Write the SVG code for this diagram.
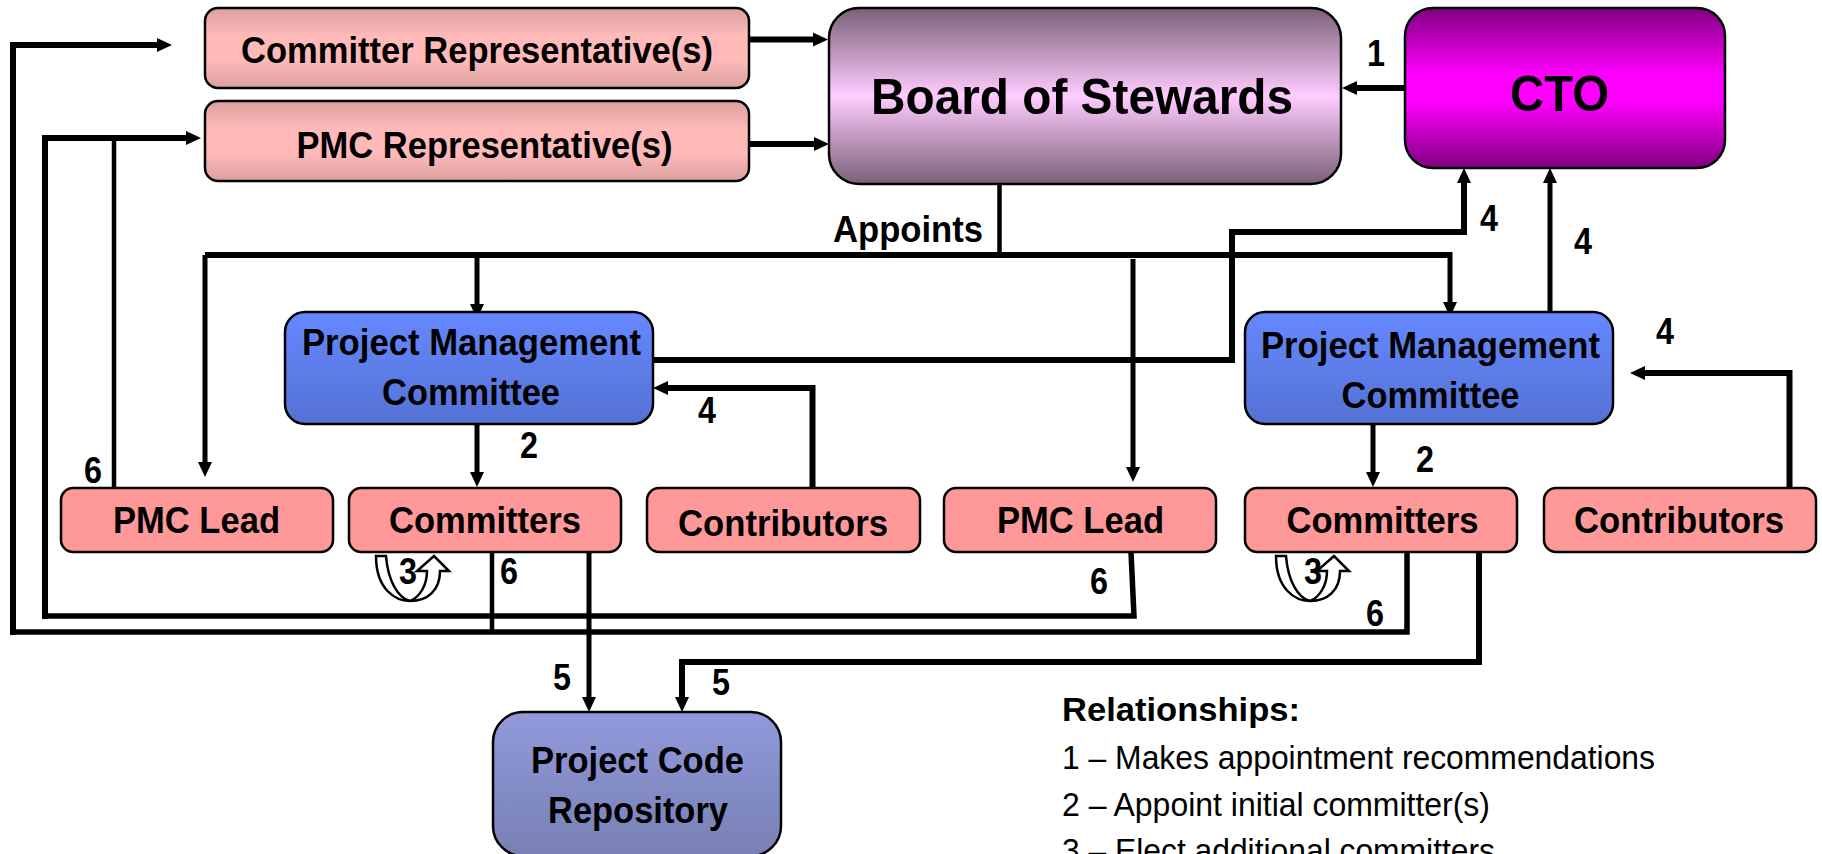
<svg xmlns="http://www.w3.org/2000/svg" width="1822" height="854" viewBox="0 0 1822 854">
<style>
text{font-family:"Liberation Sans",Arial,sans-serif;font-weight:700;fill:#000}
.n rect{stroke:#000;stroke-width:2.500}
.t32{font-size:36px}
.lg{font-size:33px}
.r{font-weight:400;font-size:33px}
.c path{fill:none;stroke:#000;stroke-width:5.500}
.c .h{stroke-width:6;marker-end:url(#a)}
.c .v{stroke-width:5;marker-end:url(#a)}
.c .s{stroke-width:4.500}
.u{fill:#fff;stroke:#000;stroke-width:2.500}
</style>
<defs>
<marker id="a" markerUnits="userSpaceOnUse" markerWidth="16" markerHeight="16" viewBox="0 0 16 16" refX="3" refY="8" orient="auto"><path d="M0 1L15 8L0 15z" fill="#000"/></marker>
<linearGradient id="gp" x1="0" y1="0" x2="0" y2="1"><stop offset="0" stop-color="#dca0a0"/><stop offset=".35" stop-color="#ffb9b9"/><stop offset=".65" stop-color="#ffb9b9"/><stop offset="1" stop-color="#dca0a0"/></linearGradient>
<linearGradient id="gb" x1="0" y1="0" x2="0" y2="1"><stop offset="0" stop-color="#7a6078"/><stop offset=".5" stop-color="#ffccff"/><stop offset="1" stop-color="#7a6078"/></linearGradient>
<linearGradient id="gc" x1="0" y1="0" x2="0" y2="1"><stop offset="0" stop-color="#800080"/><stop offset=".42" stop-color="#ff00ff"/><stop offset=".58" stop-color="#ff00ff"/><stop offset="1" stop-color="#800080"/></linearGradient>
<linearGradient id="gm" x1="0" y1="0" x2="0" y2="1"><stop offset="0" stop-color="#6688ff"/><stop offset="1" stop-color="#5472d4"/></linearGradient>
<linearGradient id="gr" x1="0" y1="0" x2="0" y2="1"><stop offset="0" stop-color="#9199dc"/><stop offset="1" stop-color="#7880b4"/></linearGradient>
<g id="uturn"><path class="u" d="M376 556L386 556C388 581 398 598 410 601C396 601 376 590 376 556z"/><path class="u" d="M410 601C420 597 427 585 427 571L417 571L434 556L449 571L440 571C440 590 428 601 410 601z"/></g>
</defs>
<g class="c" id="connectors">
<path d="M13 635V45H160" class="h"/>
<path d="M45 619V138H189" class="h"/>
<path d="M114 487V138" class="s"/>
<path d="M749 39.500H816" class="h"/>
<path d="M749 144H817" class="h"/>
<path d="M1405 88H1354" class="h"/>
<path d="M999.500 184V255" class="s"/>
<path d="M205 255V465" class="v"/>
<path d="M205 255H1450" style="stroke-width:6"/>
<path d="M1450 252V305" class="v"/>
<path d="M477 255V307" class="v"/>
<path d="M1133 259V470" class="v"/>
<path d="M653 360H1232V232H1464V180" class="h"/>
<path d="M1550 312V180" class="v"/>
<path d="M812.500 487V388H665" class="h"/>
<path d="M1789.500 487V373H1642" class="h"/>
<path d="M477 424V475" class="v"/>
<path d="M1373 424V475" class="v"/>
<path d="M45 616H1134L1131 552"/>
<path d="M13 632H1407V552"/>
<path d="M492 552V632" class="s"/>
<path d="M589 552V700" class="v"/>
<path d="M1479 552V662H682V700" class="h"/>
</g>
<use href="#uturn"/>
<use href="#uturn" x="900"/>
<g id="committer-rep" class="n"><rect x="205" y="8" width="544" height="80" rx="13" fill="url(#gp)"/><text class="t32" x="241" y="63" textLength="472" lengthAdjust="spacingAndGlyphs">Committer Representative(s)</text></g>
<g id="pmc-rep" class="n"><rect x="205" y="101" width="544" height="80" rx="13" fill="url(#gp)"/><text class="t32" x="296.500" y="157.500" textLength="376" lengthAdjust="spacingAndGlyphs">PMC Representative(s)</text></g>
<g id="board" class="n"><rect x="829" y="8" width="512" height="176" rx="30" fill="url(#gb)"/><text x="871" y="114" font-size="50" textLength="422" lengthAdjust="spacingAndGlyphs">Board of Stewards</text></g>
<g id="cto" class="n"><rect x="1405" y="8" width="320" height="160" rx="28" fill="url(#gc)"/><text x="1510" y="111" font-size="50" textLength="99" lengthAdjust="spacingAndGlyphs">CTO</text></g>
<g id="pmc-left" class="n"><rect x="285" y="312" width="368" height="112" rx="20" fill="url(#gm)"/><text class="t32" x="302" y="355" textLength="339" lengthAdjust="spacingAndGlyphs">Project Management</text><text class="t32" x="382" y="405" textLength="178" lengthAdjust="spacingAndGlyphs">Committee</text></g>
<g id="pmc-right" class="n"><rect x="1245" y="312" width="368" height="112" rx="20" fill="url(#gm)"/><text class="t32" x="1261" y="358" textLength="339" lengthAdjust="spacingAndGlyphs">Project Management</text><text class="t32" x="1341.500" y="408" textLength="178" lengthAdjust="spacingAndGlyphs">Committee</text></g>
<g id="lead-left" class="n"><rect x="61" y="488" width="272" height="64" rx="12" fill="#ff9999"/><text class="t32" x="113" y="533" textLength="167" lengthAdjust="spacingAndGlyphs">PMC Lead</text></g>
<g id="committers-left" class="n"><rect x="349" y="488" width="272" height="64" rx="12" fill="#ff9999"/><text class="t32" x="389" y="533" textLength="192" lengthAdjust="spacingAndGlyphs">Committers</text></g>
<g id="contributors-left" class="n"><rect x="647" y="488" width="273" height="64" rx="12" fill="#ff9999"/><text class="t32" x="678" y="536" textLength="210" lengthAdjust="spacingAndGlyphs">Contributors</text></g>
<g id="lead-right" class="n"><rect x="944" y="488" width="272" height="64" rx="12" fill="#ff9999"/><text class="t32" x="997" y="533" textLength="167" lengthAdjust="spacingAndGlyphs">PMC Lead</text></g>
<g id="committers-right" class="n"><rect x="1245" y="488" width="272" height="64" rx="12" fill="#ff9999"/><text class="t32" x="1286.500" y="533" textLength="192" lengthAdjust="spacingAndGlyphs">Committers</text></g>
<g id="contributors-right" class="n"><rect x="1544" y="488" width="272" height="64" rx="12" fill="#ff9999"/><text class="t32" x="1574" y="533" textLength="210" lengthAdjust="spacingAndGlyphs">Contributors</text></g>
<g id="repo" class="n"><rect x="493" y="712" width="288" height="144" rx="30" fill="url(#gr)"/><text class="t32" x="531" y="773" textLength="213" lengthAdjust="spacingAndGlyphs">Project Code</text><text class="t32" x="548" y="823" textLength="180" lengthAdjust="spacingAndGlyphs">Repository</text></g>
<g id="labels">
<text class="t32" x="833" y="242" textLength="150" lengthAdjust="spacingAndGlyphs">Appoints</text>
<text class="t32" x="1367" y="66" textLength="18" lengthAdjust="spacingAndGlyphs">1</text>
<text class="t32" x="698" y="423" textLength="18" lengthAdjust="spacingAndGlyphs">4</text>
<text class="t32" x="1480" y="231" textLength="18" lengthAdjust="spacingAndGlyphs">4</text>
<text class="t32" x="1574" y="254" textLength="18" lengthAdjust="spacingAndGlyphs">4</text>
<text class="t32" x="1656" y="344" textLength="18" lengthAdjust="spacingAndGlyphs">4</text>
<text class="t32" x="520" y="458" textLength="18" lengthAdjust="spacingAndGlyphs">2</text>
<text class="t32" x="1416" y="472" textLength="18" lengthAdjust="spacingAndGlyphs">2</text>
<text class="t32" x="84" y="483" textLength="18" lengthAdjust="spacingAndGlyphs">6</text>
<text class="t32" x="399" y="584" textLength="18" lengthAdjust="spacingAndGlyphs">3</text>
<text class="t32" x="1304" y="584" textLength="18" lengthAdjust="spacingAndGlyphs">3</text>
<text class="t32" x="500" y="584" textLength="18" lengthAdjust="spacingAndGlyphs">6</text>
<text class="t32" x="1090" y="594" textLength="18" lengthAdjust="spacingAndGlyphs">6</text>
<text class="t32" x="1366" y="626" textLength="18" lengthAdjust="spacingAndGlyphs">6</text>
<text class="t32" x="553" y="690" textLength="18" lengthAdjust="spacingAndGlyphs">5</text>
<text class="t32" x="712" y="695" textLength="18" lengthAdjust="spacingAndGlyphs">5</text>
</g>
<g id="legend">
<text class="lg" x="1062" y="721" textLength="238" lengthAdjust="spacingAndGlyphs">Relationships:</text>
<text class="r" x="1062" y="769" textLength="593" lengthAdjust="spacingAndGlyphs">1 – Makes appointment recommendations</text>
<text class="r" x="1062" y="816" textLength="428" lengthAdjust="spacingAndGlyphs">2 – Appoint initial committer(s)</text>
<text class="r" x="1062" y="862" textLength="433" lengthAdjust="spacingAndGlyphs">3 – Elect additional committers</text>
</g>
</svg>
